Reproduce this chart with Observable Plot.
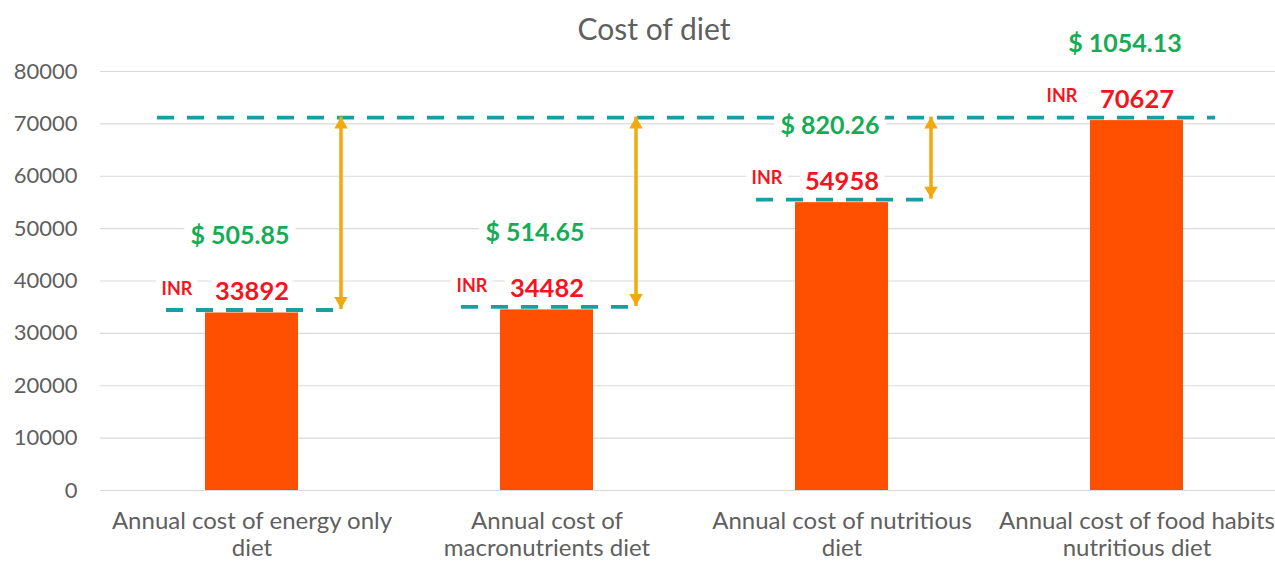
<!DOCTYPE html>
<html>
<head>
<meta charset="utf-8">
<script src="https://cdn.jsdelivr.net/npm/d3@7"></script>
<script src="https://cdn.jsdelivr.net/npm/@observablehq/plot@0.6"></script>
<style>
  html, body { margin: 0; padding: 0; background: #fff; }
  #chart { width: 1275px; height: 562px; overflow: hidden; }
</style>
</head>
<body>
<div id="chart"></div>
<script>
const title = "Cost of diet";
const categories = [
  "Annual cost of energy only\ndiet",
  "Annual cost of\nmacronutrients diet",
  "Annual cost of nutritious\ndiet",
  "Annual cost of food habits\nnutritious diet"
];
const inrValues = [33892, 34482, 54958, 70627];
const usdLabels = ["$ 505.85", "$ 514.65", "$ 820.26", "$ 1054.13"];
const yTicks = [0, 10000, 20000, 30000, 40000, 50000, 60000, 70000, 80000];

const data = categories.map((c, i) => ({cat: c, inr: inrValues[i], usd: usdLabels[i]}));
const maxInr = d3.max(inrValues);
const gaps = data.filter(d => d.inr < maxInr);

const FONT = "Lato, 'Open Sans', sans-serif";
const GRAY = "#5f5f5f";
const TEAL = "#1a9ea6";
const ORANGE = "#f2a90f";
const RED = "#f5141e";
const GREEN = "#16ab55";

const chart = Plot.plot({
  width: 1275,
  height: 562,
  marginTop: 71,
  marginBottom: 72,
  marginLeft: 100,
  marginRight: 0,
  style: {fontFamily: FONT, background: "#fff", overflow: "visible"},
  x: {domain: categories, range: [102, 1285], paddingInner: 0.685, paddingOuter: 0.3425, label: null},
  y: {domain: [0, 80000], label: null},
  marks: [
    Plot.gridY(yTicks, {stroke: "#d9d9d9", strokeOpacity: 1, strokeWidth: 1.2}),
    Plot.axisY(yTicks, {tickSize: 0, tickPadding: 23, fontSize: 22, fill: GRAY, tickFormat: d => String(d), label: null}),
    Plot.axisX({tickSize: 0, tickPadding: 20, fontSize: 24, fill: GRAY, lineHeight: 1.1, label: null}),
    Plot.barY(data, {x: "cat", y: "inr", fill: "#fe5000"}),
    Plot.tickY(data.filter(d => d.inr < maxInr), {x: "cat", y: "inr", dy: -3, stroke: TEAL, strokeWidth: 3.8, strokeDasharray: "17,13", insetLeft: -39, insetRight: -35}),
    Plot.ruleY([maxInr], {dy: -3, stroke: TEAL, strokeWidth: 3.8, strokeDasharray: "17,13", insetLeft: 57, insetRight: 60}),
    Plot.link(gaps, {x1: "cat", x2: "cat", y1: "inr", y2: () => maxInr, dx: 89, dy: -4, stroke: ORANGE, strokeWidth: 3.5}),
    Plot.dot(gaps, {x: "cat", y: () => maxInr, dx: 89, dy: 4, symbol: "triangle", r: 5, fill: ORANGE, stroke: "none"}),
    Plot.dot(gaps, {x: "cat", y: "inr", dx: 89, dy: -12, symbol: "triangle", rotate: 180, r: 5, fill: ORANGE, stroke: "none"}),
    Plot.text(data, {x: "cat", y: "inr", text: d => String(d.inr), dy: -21, fontSize: 25.5, fontWeight: "bold", fill: RED, stroke: "white", strokeWidth: 14}),
    Plot.text(data, {x: "cat", y: "inr", text: () => "INR", dx: -75, dy: -24, fontSize: 18, fontWeight: "bold", fill: RED, stroke: "white", strokeWidth: 14}),
    Plot.text(data, {x: "cat", y: "inr", text: "usd", dx: -12, dy: -77, fontSize: 25, fontWeight: "bold", fill: GREEN, stroke: "white", strokeWidth: 16}),
    Plot.text([title], {frameAnchor: "top", dx: -34, dy: -53, fontSize: 30, fill: GRAY})
  ]
});
document.getElementById("chart").appendChild(chart);
</script>
</body>
</html>
